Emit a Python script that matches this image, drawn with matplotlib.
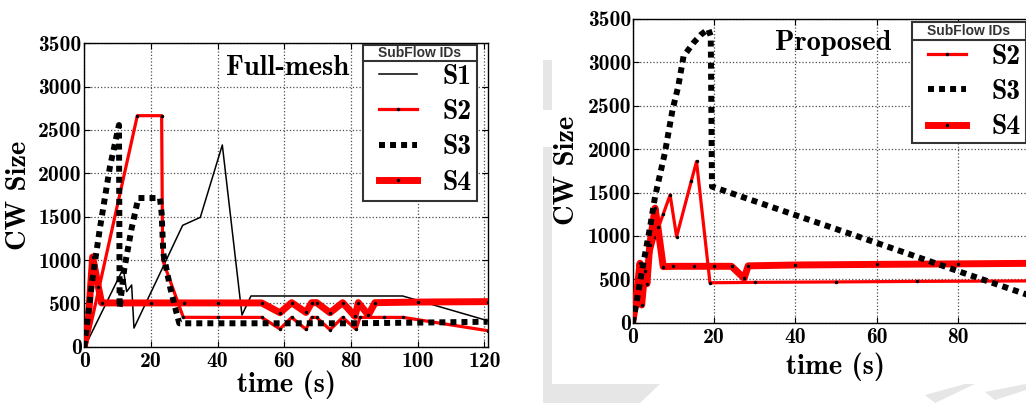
import matplotlib
matplotlib.use('Agg')
import matplotlib.pyplot as plt
from matplotlib.patches import Polygon, Rectangle
from matplotlib.font_manager import FontProperties

plt.rcParams['font.family'] = 'cmb10'
plt.rcParams['axes.unicode_minus'] = False

# ---------------- data: Full-mesh (left) ----------------
t_fm_s1 = [0, 0.9, 11.7, 12.7, 14.2, 14.9, 22.7, 29.5, 34.8, 41.4, 47.3, 50.0, 60, 70, 80, 95.5, 121]
v_fm_s1 = [0, 58, 904, 635, 712, 215, 846, 1400, 1492, 2327, 365, 585, 585, 585, 585, 585, 300]

t_fm_s2 = [0, 0.5, 15.9, 23.2, 23.5, 29.7, 40, 53.2, 58.7, 62.2, 66.5, 68.2, 69.7, 73.7, 77.5,
           81.5, 82.7, 90, 95.7, 121]
v_fm_s2 = [0, 0, 2665, 2665, 1000, 339, 338, 338, 205, 338, 200, 338, 338, 195, 338,
           200, 338, 338, 338, 185]

t_fm_s3 = [0, 2.5, 4.7, 7.7, 10.4, 10.6, 12.0, 14.2, 16.2, 22.7, 23.2, 23.7, 25.7, 27.7, 28.5,
           40, 60, 80, 100, 121]
v_fm_s3 = [0, 800, 1370, 2077, 2557, 446, 900, 1366, 1715, 1715, 1538, 1077, 692, 385, 270,
           270, 270, 270, 278, 288]

t_fm_s4 = [0, 1.2, 2.5, 4.2, 5.2, 10, 20, 30, 40, 53.2, 58.7, 62.2, 66.5, 68.2, 69.7, 73.7,
           77.5, 81.2, 82.2, 85.2, 87.2, 100, 121]
v_fm_s4 = [0, 308, 1035, 692, 505, 505, 505, 505, 505, 505, 392, 508, 395, 508, 508, 392,
           508, 350, 508, 365, 508, 515, 520]

# ---------------- data: Proposed (right) ----------------
t_pr_s2 = [0, 1.5, 3, 5.5, 7.5, 9.2, 10.8, 14.4, 15.7, 19.0, 30, 50, 70, 100]
v_pr_s2 = [0, 280, 560, 992, 1250, 1473, 992, 1630, 1858, 460, 465, 470, 476, 482]

t_pr_s3 = [0, 1, 2, 3, 4.3, 5.5, 7.9, 9.8, 11.2, 12.5, 14.9, 16.8, 18.6, 19.2, 19.5,
           40, 60, 80, 100]
v_pr_s3 = [0, 250, 520, 780, 1108, 1454, 1954, 2454, 2723, 3069, 3223, 3320, 3385, 3300, 1569,
           1240, 920, 595, 275]

t_pr_s4 = [0, 0.6, 1.8, 2.2, 3.0, 3.5, 4.2, 5.5, 6.2, 7.5, 10, 15, 20, 24.3, 27.4, 28.4,
           40, 60, 80, 100]
v_pr_s4 = [0, 185, 685, 204, 600, 450, 900, 1320, 1100, 646, 650, 650, 650, 650, 512, 655,
           665, 672, 678, 685]

xticks_fm = [0, 20, 40, 60, 80, 100, 120]
xticks_pr = [0, 20, 40, 60, 80]
yticks = [0, 500, 1000, 1500, 2000, 2500, 3000, 3500]
legend_title = 'SubFlow IDs'

W, H = 1026, 403
fig = plt.figure(figsize=(W / 100, H / 100), dpi=100)


def px_axes(l, t, r, b):
    return [l / W, (H - b) / H, (r - l) / W, (b - t) / H]


def fx(x):
    return x / W


def fy(y):
    return (H - y) / H


# light grey shadow shapes behind the right panel
grey = '#e6e6e6'
shapes = [
    [(543, 60), (552, 60), (552, 110), (543, 110)],
    [(543, 147), (552, 147), (552, 384), (543, 384)],
    [(543, 384), (660, 384), (640, 403), (543, 403)],
    [(925, 395), (965, 384), (975, 384), (935, 403)],
    [(985, 392), (1026, 384), (1026, 390), (995, 400)],
]
for s in shapes:
    pts = [(fx(x), fy(y)) for x, y in s]
    fig.add_artist(Polygon(pts, closed=True, transform=fig.transFigure,
                           facecolor=grey, edgecolor='none', zorder=-1))

ax1 = fig.add_axes(px_axes(84.3, 43.3, 488, 346.7))
ax2 = fig.add_axes(px_axes(632.7, 19, 1039.3, 322.7))

st1 = dict(color='black', lw=1.1, zorder=2)
st2 = dict(color='red', lw=2.3, marker='.', ms=3, mfc='k', mec='k', zorder=2)
st3 = dict(color='black', lw=4.3, linestyle=(0, (1, 0.85)), zorder=4)
st4 = dict(color='red', lw=5.0, marker='.', ms=3, mfc='k', mec='k', zorder=3)

l1, = ax1.plot(t_fm_s1, v_fm_s1, label='S1', **st1)
l2, = ax1.plot(t_fm_s2, v_fm_s2, label='S2', **st2)
l3, = ax1.plot(t_fm_s3, v_fm_s3, label='S3', **st3)
l4, = ax1.plot(t_fm_s4, v_fm_s4, label='S4', **st4)

r2, = ax2.plot(t_pr_s2, v_pr_s2, label='S2', **st2)
r4, = ax2.plot(t_pr_s4, v_pr_s4, label='S4', **st4)
r3, = ax2.plot(t_pr_s3, v_pr_s3, label='S3', **st3)

for ax, xl, xt in [(ax1, 121.1, xticks_fm), (ax2, 100, xticks_pr)]:
    ax.set_xlim(0, xl)
    ax.set_ylim(0, 3500)
    ax.set_xticks(xt)
    ax.set_yticks(yticks)
    ax.grid(True, linestyle=':', color='0.3', lw=0.9)
    ax.tick_params(direction='in', top=True, right=True, length=4, width=0.8,
                   labelsize=15.5)
    for sp in ax.spines.values():
        sp.set_linewidth(1.0)
    ax.set_ylabel('CW Size', fontsize=20.5)
    ax.yaxis.set_label_coords(-0.1296, 0.5)

ax1.tick_params(axis='y', pad=2)
ax2.tick_params(axis='y', pad=1)
ax1.set_xlabel('time (s)', fontsize=20.5, labelpad=0)
ax2.set_xlabel('time (s)', fontsize=20.5, labelpad=4)

ax1.text(0.351, 0.895, 'Full-mesh', transform=ax1.transAxes, fontsize=20.5,
         ha='left', va='baseline')
ax2.text(0.35, 0.898, 'Proposed', transform=ax2.transAxes, fontsize=20.5,
         ha='left', va='baseline')

title_fp = FontProperties(family='Liberation Sans', weight='bold', size=10)
lab_fp = FontProperties(family='cmb10', size=20)


def boxed_legend(ax, handles, labels, box, title_line_y, entries_top, handle_x):
    l, t, r, b = box
    ax.add_patch(Rectangle((fx(l), fy(b)), fx(r) - fx(l), fy(t) - fy(b),
                           transform=fig.transFigure, facecolor='white',
                           edgecolor='0.2', lw=1.5, zorder=4.6, clip_on=False))
    ax.plot([fx(l), fx(r)], [fy(title_line_y)] * 2, transform=fig.transFigure,
            color='0.2', lw=1.5, zorder=4.7, clip_on=False)
    ax.text((fx(l) + fx(r)) / 2, (fy(t) + fy(title_line_y)) / 2, legend_title,
            transform=fig.transFigure, fontproperties=title_fp, color='0.2',
            ha='center', va='center', zorder=6)
    ax.legend(handles, labels, loc='upper left', prop=lab_fp,
              bbox_to_anchor=(fx(handle_x), fy(entries_top)),
              bbox_transform=fig.transFigure, frameon=False, borderpad=0,
              borderaxespad=0, handlelength=1.35, handletextpad=0.95,
              labelspacing=0.34)


boxed_legend(ax1, [l1, l2, l3, l4], ['S1', 'S2', 'S3', 'S4'],
             (363, 45, 477, 201), 61, 63.5, 379)
boxed_legend(ax2, [r2, r3, r4], ['S2', 'S3', 'S4'],
             (912, 21.7, 1025.5, 142.7), 40, 43.5, 928)

fig.savefig('out.png', dpi=100, facecolor='white')
